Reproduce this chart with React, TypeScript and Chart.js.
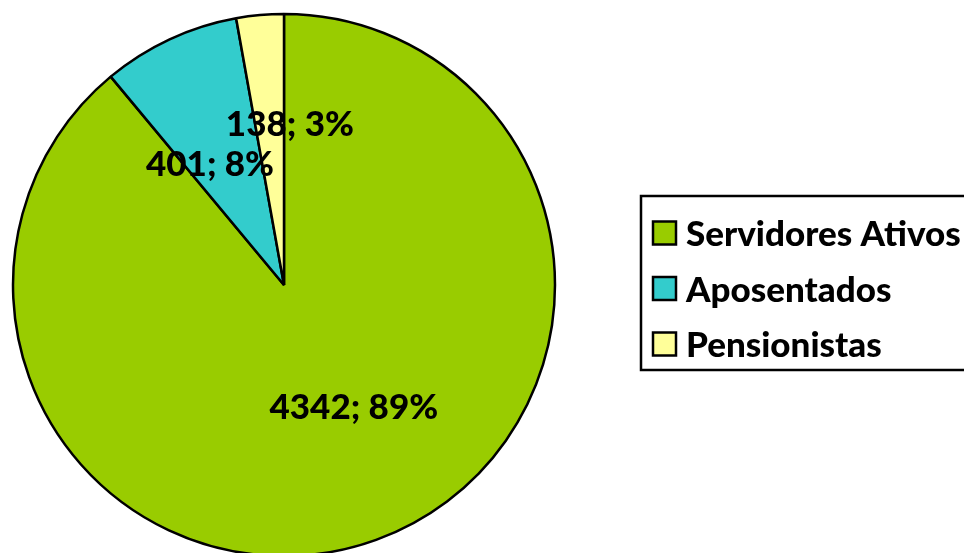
import React, { useEffect, useRef } from "react";
import { Chart, registerables } from "chart.js";

Chart.register(...registerables);

const categories: string[] = ["Servidores Ativos", "Aposentados", "Pensionistas"];
const values: number[] = [4342, 401, 138];
const colors: string[] = ["#99CC00", "#33CCCC", "#FFFF99"];

const FONT = "Lato, 'Open Sans', sans-serif";

// per-slice label placement: [angle shift in degrees, radial fraction]
const labelPlacement: [number, number][] = [
  [-9.7, 0.522],
  [-6.7, 0.52],
  [7.2, 0.59],
];

const labelsPlugin = {
  id: "pieLabels",
  afterDatasetsDraw(chart: any) {
    const ctx = chart.ctx;
    const meta = chart.getDatasetMeta(0);
    const data: number[] = chart.data.datasets[0].data;
    const total = data.reduce((a, b) => a + b, 0);
    ctx.save();
    ctx.font = `900 35px ${FONT}`;
    ctx.fillStyle = "#000";
    ctx.textAlign = "center";
    ctx.textBaseline = "middle";
    meta.data.forEach((arc: any, i: number) => {
      const { x, y, startAngle, endAngle, outerRadius } = arc.getProps(
        ["x", "y", "startAngle", "endAngle", "outerRadius"],
        true
      );
      const [shift, frac] = labelPlacement[i];
      const mid = (startAngle + endAngle) / 2 + (shift * Math.PI) / 180;
      const r = outerRadius * frac;
      const pct = Math.round((data[i] / total) * 100);
      ctx.fillText(`${data[i]}; ${pct}%`, x + Math.cos(mid) * r, y + Math.sin(mid) * r);
    });
    ctx.restore();
  },
};

const legendPlugin = {
  id: "boxLegend",
  afterDraw(chart: any) {
    const ctx = chart.ctx;
    const ds = chart.data.datasets[0];
    const labels: string[] = chart.data.labels;
    ctx.save();
    ctx.lineWidth = 2.5;
    ctx.strokeStyle = "#000";
    ctx.strokeRect(641, 196, 340, 174);
    ctx.font = `900 35px ${FONT}`;
    ctx.textAlign = "left";
    ctx.textBaseline = "middle";
    labels.forEach((lab, i) => {
      const cy = 233 + i * 55.5;
      ctx.fillStyle = ds.backgroundColor[i];
      ctx.fillRect(653, cy - 11.5, 23, 23);
      ctx.strokeRect(653, cy - 11.5, 23, 23);
      ctx.fillStyle = "#000";
      ctx.fillText(lab, 686, cy + 2);
    });
    ctx.restore();
  },
};

export default function App() {
  const ref = useRef<HTMLCanvasElement | null>(null);
  useEffect(() => {
    if (!ref.current) return;
    const chart = new Chart(ref.current, {
      type: "pie",
      data: {
        labels: categories,
        datasets: [
          {
            data: values,
            backgroundColor: colors,
            borderColor: "#000",
            borderWidth: 2.5,
            radius: 271,
          },
        ],
      },
      options: {
        animation: false,
        responsive: false,
        layout: { padding: { left: 13, right: 409, top: 17, bottom: 0 } },
        plugins: {
          legend: { display: false },
          tooltip: { enabled: false },
        },
      },
      plugins: [labelsPlugin, legendPlugin],
    });
    return () => chart.destroy();
  }, []);
  return (
    <div style={{ position: "fixed", left: 0, top: 0, width: 964, height: 553, background: "#fff" }}>
      <canvas ref={ref} width={964} height={553} />
    </div>
  );
}
